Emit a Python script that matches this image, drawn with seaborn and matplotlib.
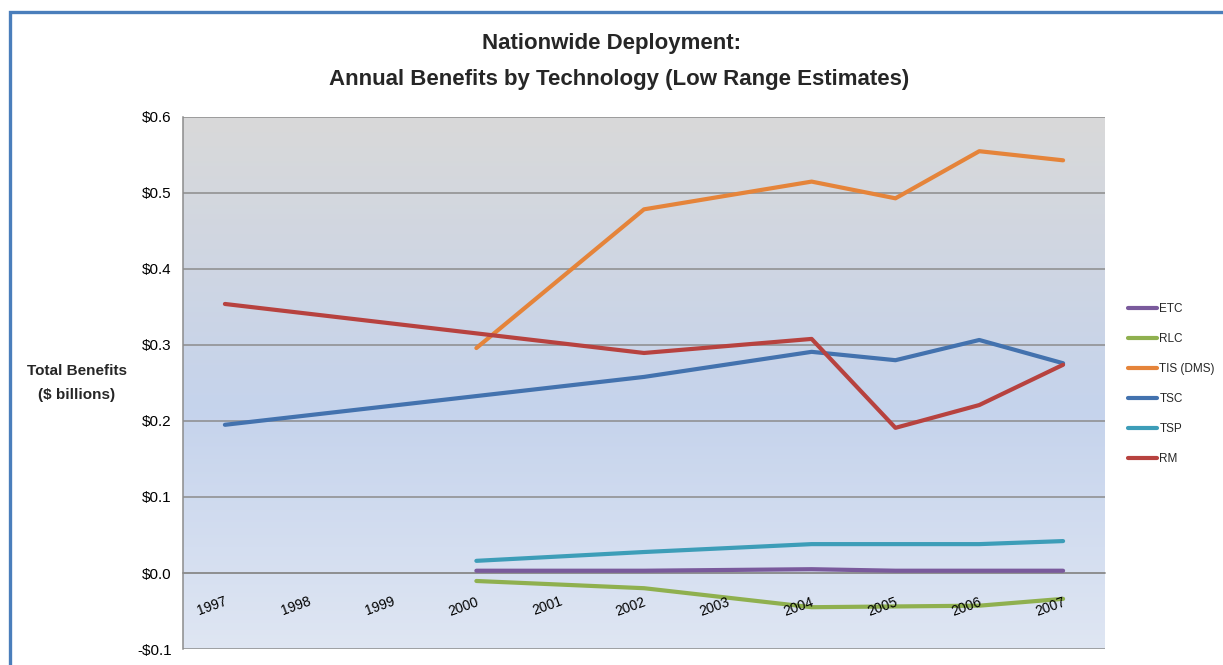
import numpy as np
import pandas as pd
import matplotlib
matplotlib.use("Agg")
import matplotlib.pyplot as plt
from matplotlib.colors import LinearSegmentedColormap
from matplotlib.patches import Rectangle
import seaborn as sns

# ---- data (billions of dollars, low range estimates) ----
years = [1997, 1998, 1999, 2000, 2001, 2002, 2003, 2004, 2005, 2006, 2007]
nan = np.nan
etc = [nan, nan, nan, 0.003, nan, 0.003, nan, 0.005, 0.003, 0.003, 0.003]
rlc = [nan, nan, nan, -0.0105, nan, -0.020, nan, -0.045, -0.044, -0.043, -0.034]
tis = [nan, nan, nan, 0.296, nan, 0.4785, nan, 0.515, 0.493, 0.555, 0.543]
tsc = [0.195, nan, nan, nan, nan, 0.258, nan, 0.291, 0.280, 0.3066, 0.276]
tsp = [nan, nan, nan, 0.016, nan, 0.0276, nan, 0.038, 0.038, 0.038, 0.042]
rm = [0.354, nan, nan, nan, nan, 0.2895, nan, 0.308, 0.191, 0.221, 0.274]

series_names = ["ETC", "RLC", "TIS (DMS)", "TSC", "TSP", "RM"]
series_values = [etc, rlc, tis, tsc, tsp, rm]
series_colors = ["#7a5a9c", "#8fb04f", "#e5843a", "#4372ae", "#3d9db8", "#b7423f"]
y_ticks = [-0.1, 0.0, 0.1, 0.2, 0.3, 0.4, 0.5, 0.6]

sns.set_theme(style="white")
plt.rcParams["font.family"] = ["Liberation Sans", "DejaVu Sans"]

rows = []
for name, vals in zip(series_names, series_values):
    for yr, v in zip(years, vals):
        if not np.isnan(v):
            rows.append({"Year": yr, "Benefit": v, "Technology": name})
df = pd.DataFrame(rows)

W, H = 1223, 665
fig = plt.figure(figsize=(W / 100, H / 100), dpi=100)
fig.patch.set_facecolor("white")
ax = fig.add_axes([183 / W, 1 - 649 / H, (1105 - 183) / W, (649 - 117) / H])

# gradient plot area: gray at top fading to light blue
grad_cmap = LinearSegmentedColormap.from_list(
    "bg", [(0.0, "#dfe6f3"), (0.45, "#c5d3ec"), (1.0, "#d9d9d9")])
grad = np.linspace(0, 1, 256).reshape(-1, 1)
ax.imshow(grad, extent=[0, 1, 0, 1], transform=ax.transAxes, aspect="auto",
          cmap=grad_cmap, origin="lower", zorder=0)

sns.lineplot(data=df, x="Year", y="Benefit", hue="Technology",
             hue_order=series_names, palette=series_colors, sort=True,
             linewidth=3.0, ax=ax, zorder=3, legend=True)

ax.set_xlim(years[0] - 0.5, years[-1] + 0.5)
ax.set_ylim(y_ticks[0], y_ticks[-1])

# horizontal gridlines and dollar tick labels
ax.set_yticks(y_ticks)
ax.set_yticklabels([f"${t:.1f}" if t >= 0 else f"-${-t:.1f}" for t in y_ticks],
                   fontsize=11)
ax.yaxis.grid(True, color="#8c8c8c", linewidth=1.1)
ax.set_axisbelow(False)
for gl in ax.get_ygridlines():
    gl.set_zorder(1)
ax.tick_params(axis="y", direction="out", length=5, width=1, color="#8c8c8c",
               pad=3, labelcolor="black")

# category axis crossing at zero, ticks between categories
ax.spines["bottom"].set_position(("data", 0))
ax.spines["bottom"].set_color("#8c8c8c")
ax.spines["bottom"].set_linewidth(1.1)
ax.spines["left"].set_color("#8c8c8c")
ax.spines["left"].set_linewidth(1.1)
ax.spines["top"].set_visible(False)
ax.spines["right"].set_visible(False)
ax.set_xticks([y + 0.5 for y in years])
ax.set_xticklabels([])
ax.tick_params(axis="x", direction="out", length=5, width=1, color="#8c8c8c")
for yr in years:
    ax.text(yr + 0.02, -0.037, str(yr), rotation=20, rotation_mode="anchor",
            ha="right", va="center", fontsize=10, color="black", zorder=4)

ax.set_xlabel("")
ax.set_ylabel("")

leg = ax.legend(loc="upper left", frameon=False, fontsize=8.5,
                handlelength=2.45, handletextpad=0.2,
                labelspacing=1.53, borderaxespad=0.0, borderpad=0.0)
leg.set_bbox_to_anchor((1128 / W, 1 - 303 / H), transform=fig.transFigure)
for line in leg.get_lines():
    line.set_linewidth(3.0)

fig.text(77 / W, 1 - 383 / H, "Total Benefits\n($ billions)", ha="center",
         va="center", fontsize=11, fontweight="bold", linespacing=1.9)

fig.text(612 / W, 1 - 44 / H, "Nationwide Deployment:", ha="center",
         va="center", fontsize=16, fontweight="bold")
fig.text(619 / W, 1 - 80 / H, "Annual Benefits by Technology (Low Range Estimates)",
         ha="center", va="center", fontsize=16, fontweight="bold")

# chart frame
fig.patches.append(Rectangle((9.5 / W, -0.2), 1.2, 1.2 - 11.5 / H,
                             transform=fig.transFigure, fill=False,
                             edgecolor="#4a7ebb", linewidth=2.4))

fig.savefig("out.png", dpi=100)
